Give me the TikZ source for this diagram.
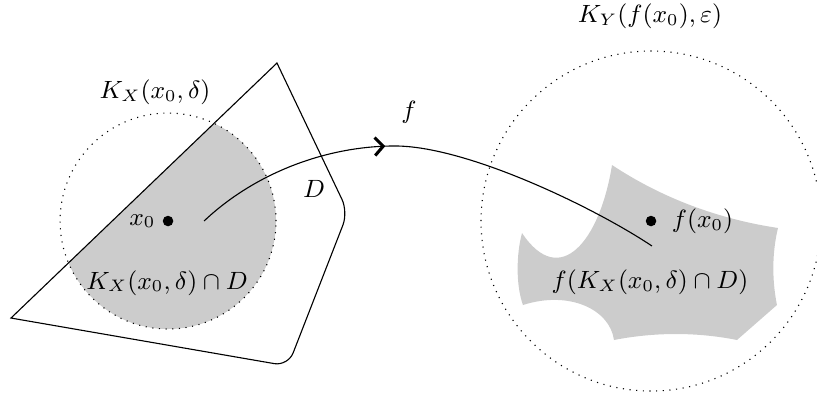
\documentclass[tikz,border=0pt]{standalone}
\usepackage{amsmath,amsfonts,amssymb}
\usepackage{tikz}
\usetikzlibrary{decorations.markings,arrows.meta}

\begin{document}
\begin{tikzpicture}[
        font=\small,
        dot/.style={circle, fill=black, inner sep=0pt, minimum size=3.8pt},
        ball/.style={dotted},
        regionfill/.style={fill=regiongray, draw=none},
        mapsto/.style={postaction={decorate}, decoration={markings,
            mark=at position 0.41 with {\arrow[line width=1.1pt]{Straight Barb[length=3pt, width=6.5pt]}}}}
    ]

        % Color definition for the shaded sets
        \definecolor{regiongray}{HTML}{CCCCCC} % Light Grey

        % Fixed frame of the picture
        \useasboundingbox (0,0) rectangle (10.342,5.013);

        % Centres of the two balls
        \coordinate (x0) at (2.127,2.215);
        \coordinate (fx0) at (8.241,2.215);

        % Corners of the set D
        \coordinate (Dt) at (3.506,4.215);
        \coordinate (Dr) at (4.405,2.329);
        \coordinate (Db) at (3.646,0.380);
        \coordinate (Dl) at (0.139,0.987);

        % === LEFT: ball around x_0 cut with D ===
        \begin{scope}
            \clip (Dl) -- (Dt) -- (Dr) -- (Db) -- cycle;
            \fill[regionfill] (x0) circle (1.367);
        \end{scope}
        \draw[ball] (x0) circle (1.367);
        \draw (Dl) -- (Dt) [rounded corners=5pt] -- (Dr) -- (Db) [sharp corners] -- cycle;

        % === RIGHT: image of the cut ball ===
        \fill[regionfill] (7.747,2.924)
            .. controls (7.595,1.968) and (7.089,1.342) .. (6.608,2.063)
            .. controls (6.532,1.785) and (6.532,1.392) .. (6.620,1.152)
            .. controls (7.215,1.342) and (7.722,1.089) .. (7.772,0.709)
            .. controls (8.291,0.810) and (8.823,0.810) .. (9.329,0.709)
            -- (9.835,1.152)
            .. controls (9.772,1.468) and (9.772,1.810) .. (9.848,2.127)
            .. controls (9.089,2.241) and (8.380,2.506) .. (7.747,2.924) -- cycle;
        \draw[ball] (fx0) circle (2.152);

        % The map f from left to right
        \coordinate (fstart) at (2.583,2.215);
        \coordinate (fend) at (8.253,1.899);
        \draw[mapsto] (fstart) .. controls (3.2,2.8) and (4.1,3.165) .. (5.0,3.165)
            .. controls (5.9,3.165) and (7.5,2.4) .. (fend);

        % Points
        \node[dot] (x0dot) at (x0) {};
        \node[dot] (fx0dot) at (fx0) {};

        % Labels
        \node (KXlabel) at (1.962,3.848) {$K_X(x_0,\delta)$};
        \node[left=1pt] (x0label) at (x0) {$x_0$};
        \node (Dlabel) at (3.975,2.620) {$D$};
        \node (caplabel) at (2.114,1.433) {$K_X(x_0,\delta)\cap D$};
        \node (flabel) at (5.177,3.595) {$f$};
        \node (KYlabel) at (8.228,4.810) {$K_Y(f(x_0),\varepsilon)$};
        \node[right=4pt] (fx0label) at (fx0) {$f(x_0)$};
        \node (imagelabel) at (8.228,1.443) {$f(K_X(x_0,\delta)\cap D)$};

    \end{tikzpicture}
\end{document}
